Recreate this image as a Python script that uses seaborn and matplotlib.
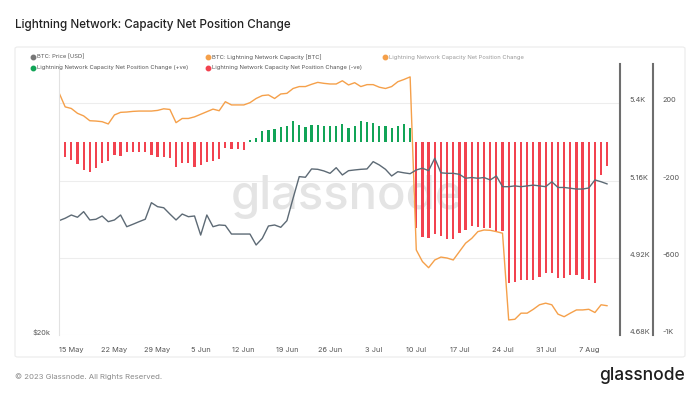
import numpy as np
import pandas as pd
import matplotlib
matplotlib.use('Agg')
import matplotlib.pyplot as plt
from matplotlib.lines import Line2D
from matplotlib.patches import FancyBboxPatch
import seaborn as sns

# daily data, 13 May 2023 .. 10 Aug 2023
dates = pd.date_range('2023-05-13', periods=90, freq='D')

price = [26950, 27120, 27350, 27190, 27590, 27000, 27050, 27280, 26880, 27000,
         27350, 26530, 26700, 26880, 27050, 28240, 27950, 27870, 27420, 27000,
         27420, 27230, 27280, 25960, 27350, 26530, 26650, 26620, 26030, 26030,
         26030, 26030, 25300, 25740, 26580, 26650, 26490, 26950, 28570, 30220,
         30170, 30830, 30800, 30670, 30480, 30930, 30350, 30690, 30750, 30800,
         30830, 31420, 31150, 30800, 30270, 30610, 30520, 30450, 30750, 30890,
         30690, 31700, 30520, 30480, 30480, 30400, 30090, 30150, 30090, 30150,
         29960, 30270, 29440, 29440, 29500, 29440, 29500, 29560, 29500, 29440,
         29820, 29380, 29380, 29320, 29260, 29260, 29340, 29960, 29820, 29650]

capacity = [5433, 5389, 5384, 5369, 5361, 5346, 5345, 5343, 5336, 5364,
            5372, 5373, 5375, 5376, 5376, 5376, 5378, 5383, 5381, 5340,
            5353, 5353, 5358, 5366, 5374, 5382, 5377, 5405, 5395, 5395,
            5395, 5402, 5415, 5424, 5426, 5415, 5429, 5431, 5446, 5452,
            5452, 5459, 5465, 5462, 5460, 5460, 5470, 5457, 5464, 5452,
            5458, 5458, 5450, 5446, 5452, 5467, 5474, 5482, 4945, 4909,
            4890, 4914, 4923, 4920, 4914, 4940, 4966, 4981, 5002, 5007,
            5006, 5002, 4997, 4728, 4730, 4749, 4749, 4761, 4775, 4780,
            4775, 4746, 4738, 4749, 4759, 4759, 4761, 4751, 4775, 4772]

# 30d net position change (first day empty)
net_change = [np.nan, -79, -93, -115, -145, -157, -133, -107, -97, -67,
              -72, -53, -50, -50, -50, -67, -79, -76, -84, -128,
              -110, -107, -128, -119, -102, -97, -90, -33, -36, -36,
              -41, 10, 22, 58, 62, 65, 79, 84, 108, 88,
              79, 88, 88, 84, 84, 83, 93, 71, 83, 110,
              102, 97, 84, 83, 71, 84, 93, 71, -446, -489,
              -498, -475, -484, -501, -501, -472, -455, -432, -438, -443,
              -446, -463, -460, -730, -722, -713, -713, -713, -696, -679,
              -675, -705, -705, -687, -687, -710, -713, -727, -171, -122]

tick_dates = pd.date_range('2023-05-15', '2023-08-07', freq='7D')
tick_labels = ['15 May', '22 May', '29 May', '5 Jun', '12 Jun', '19 Jun', '26 Jun',
               '3 Jul', '10 Jul', '17 Jul', '24 Jul', '31 Jul', '7 Aug']

cap_ticks = [4680, 4920, 5160, 5400]
cap_labels = ['4.68K', '4.92K', '5.16K', '5.4K']
net_ticks = [-1000, -600, -200, 200]
net_labels = ['-1K', '-600', '-200', '200']

df = pd.DataFrame({'date': dates, 'price': price, 'capacity': capacity,
                   'net': net_change})

sns.set_theme(style='white')
plt.rcParams['font.family'] = ['Inter', 'DejaVu Sans']

W, H = 700, 394
fig = plt.figure(figsize=(7, 3.94), dpi=100)
fig.patch.set_facecolor('white')

# card behind everything
card = FancyBboxPatch((15 / W, 1 - 357 / H), 670 / W, 310 / H,
                      boxstyle='round,pad=0,rounding_size=0.004',
                      transform=fig.transFigure, facecolor='white',
                      edgecolor='#ebebeb', linewidth=0.8, zorder=-5)
fig.patches.append(card)

fig.text(15 / W, 1 - 25 / H, 'Lightning Network: Capacity Net Position Change',
         fontsize=8.4, color='#222222', va='center', ha='left', fontweight='medium')

pos = [59 / W, 1 - 335.4 / H, (620 - 59) / W, (335.4 - 64) / H]
ax = fig.add_axes(pos)          # price, log, left
ax_cap = ax.twinx()             # capacity
ax_net = ax.twinx()             # net position change
ax_net.set_zorder(1)
ax_cap.set_zorder(2)
ax.set_zorder(3)
ax.patch.set_visible(False)
ax_cap.patch.set_visible(False)
ax_net.patch.set_visible(False)

green, red = '#12a457', '#f2424f'
orange, grey = '#f5a04a', '#5d6a75'

# bars
pos_mask = df['net'] > 0
ax_net.bar(df['date'][pos_mask], df['net'][pos_mask], width=0.36, color=green,
           linewidth=0, edgecolor='none', zorder=2)
ax_net.bar(df['date'][~pos_mask], df['net'][~pos_mask], width=0.36, color=red,
           linewidth=0, edgecolor='none', zorder=2)
ax_net.set_ylim(-1000, 403)
ax_net.set_yticks(net_ticks)
ax_net.set_yticklabels(net_labels)
ax_net.grid(axis='y', color='#ededed', linewidth=0.8, zorder=0)
ax_net.set_axisbelow(True)
ax_net.spines['right'].set_position(('outward', 23.5))
ax_net.text(0.513, 0.51, 'glassnode', transform=ax_net.transAxes, fontsize=34,
            color='#e4e4e4', ha='center', va='center', zorder=1, fontweight='medium')

sns.lineplot(data=df, x='date', y='capacity', ax=ax_cap, color=orange, linewidth=1.0)
ax_cap.set_ylim(4680, 5522)
ax_cap.set_yticks(cap_ticks)
ax_cap.set_yticklabels(cap_labels)

sns.lineplot(data=df, x='date', y='price', ax=ax, color=grey, linewidth=1.0)
ax.set_yscale('log')
ax.set_ylim(20000, 40500)
ax.set_yticks([20000])
ax.set_yticklabels(['$20k'])
ax.yaxis.set_minor_locator(matplotlib.ticker.NullLocator())

x0 = pd.Timestamp('2023-05-13')
ax.set_xlim(x0, x0 + pd.Timedelta(days=91.07))
ax.set_xticks(tick_dates)
ax.set_xticklabels(tick_labels)

for a in (ax, ax_cap, ax_net):
    a.set_xlabel('')
    a.set_ylabel('')
    for s in a.spines.values():
        s.set_visible(False)
    a.tick_params(axis='both', length=0, labelsize=5.3, colors='#555555')

ax.spines['left'].set_visible(True)
ax.spines['left'].set_color('#e2e2e2')
ax.spines['left'].set_linewidth(0.8)
ax.tick_params(axis='y', pad=6)
ax.tick_params(axis='x', pad=8)
for a in (ax_cap, ax_net):
    a.spines['right'].set_visible(True)
    a.spines['right'].set_color('#6e6e6e')
    a.spines['right'].set_linewidth(1.5)
    a.tick_params(axis='y', pad=7)
for a in (ax, ax_cap, ax_net):
    for lab in a.get_yticklabels():
        lab.set_va('bottom')

# legend
legend_items = [
    (33, 57, '#777777', 'BTC: Price [USD]', '#555555'),
    (208, 57, orange, 'BTC: Lightning Network Capacity [BTC]', '#555555'),
    (385, 57, orange, 'Lightning Network Capacity Net Position Change', '#999999'),
    (33, 68, green, 'Lightning Network Capacity Net Position Change (+ve)', '#555555'),
    (208, 68, red, 'Lightning Network Capacity Net Position Change (-ve)', '#555555'),
]
for lx, ly, c, txt, tc in legend_items:
    fig.add_artist(Line2D([lx / W], [1 - ly / H], marker='o', markersize=3.2,
                          color=c, linestyle='none', transform=fig.transFigure))
    fig.text((lx + 4) / W, 1 - ly / H, txt, fontsize=4.2, color=tc, va='center', ha='left')

fig.text(15 / W, 1 - 377 / H, '\u00a9 2023 Glassnode. All Rights Reserved.',
         fontsize=5.6, color='#8a8a8a', va='center', ha='left')
fig.text(685 / W, 1 - 376 / H, 'glassnode', fontsize=12.5, color='#1e1e1e',
         va='center', ha='right', fontweight='medium')

fig.savefig('out.png', dpi=100)
